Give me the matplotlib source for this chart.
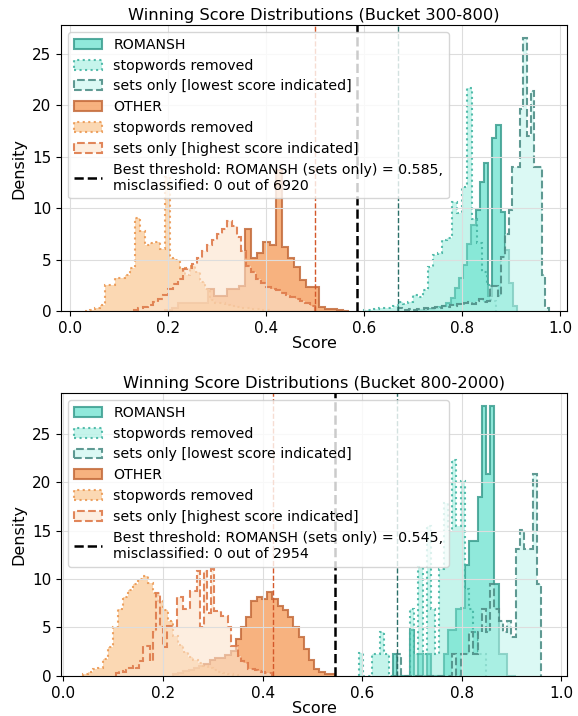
import numpy as np
import matplotlib
matplotlib.use("Agg")
import matplotlib.pyplot as plt

# ---------------- Bucket 300-800 ----------------
top_rom_start, top_rom_width = 0.700, 0.0085
top_rom = [0.05, 0.1, 0.1, 0.2, 0.2, 0.3, 0.4, 0.5, 0.8, 1.3, 2.2, 3.2, 4.5, 6.5,
           8.4, 9.8, 12.5, 14.4, 1.5, 16.8, 18.1, 9.6, 5.9, 2.7, 0.5]
top_rsw_start, top_rsw_width = 0.600, 0.010
top_rsw = [0.1, 0.1, 0.2, 0.3, 0.3, 0.3, 0.5, 0.9, 0.7, 0.9, 1.6, 1.4, 2.0, 4.3,
           5.4, 5.6, 6.9, 7.1, 10.6, 9.5, 12.1, 21.7, 8.9, 6.6, 3.8, 2.5, 1.0]
top_rso_start, top_rso_width = 0.670, 0.0075
top_rso = [0.3, 0.1, 0.1, 0.2, 0.1, 0.2, 0.2, 0.3, 0.2, 0.3, 0.4, 0.3, 0.5, 0.4,
           0.6, 0.5, 0.7, 0.6, 0.8, 0.9, 0.7, 1.0, 1.2, 0.9, 1.0, 2.4, 2.4, 1.5,
           5.3, 7.5, 9.8, 14.0, 14.0, 19.6, 26.5, 17.0, 21.4, 14.0, 14.0, 3.5, 0.3]
top_oth_start, top_oth_width = 0.195, 0.0125
top_oth = [0.1, 0.3, 0.8, 0.8, 0.8, 0.8, 0.8, 2.1, 1.5, 1.5, 2.1, 2.1, 2.4, 8.0,
           5.2, 5.6, 6.7, 6.4, 13.7, 6.2, 5.2, 4.3, 3.0, 2.3, 2.3, 0.4, 0.2, 0.2,
           0.1, 0.05]
top_osw_start, top_osw_width = 0.030, 0.0102
top_osw = [0.05, 0.1, 0.3, 0.6, 2.5, 2.5, 3.2, 3.2, 3.5, 4.2, 9.0, 7.8, 6.4, 6.6,
           6.7, 6.0, 13.0, 5.2, 5.0, 4.2, 3.5, 4.4, 3.8, 2.8, 2.1, 1.1, 0.8, 0.8,
           0.6, 0.5, 0.4, 0.3, 0.3, 0.2, 0.2, 0.1, 0.1]
top_oso_start, top_oso_width = 0.130, 0.010
top_oso = [0.1, 0.3, 0.4, 0.6, 0.9, 1.2, 1.6, 2.1, 2.6, 3.1, 4.1, 4.2, 4.6, 5.2,
           5.8, 6.4, 6.9, 7.5, 8.0, 8.8, 8.3, 7.2, 5.8, 4.4, 3.8, 3.1, 2.7, 2.3,
           2.1, 2.0, 1.8, 1.6, 1.4, 1.2, 1.0, 0.8, 0.5]
top_rom_lowest = 0.67
top_oth_highest = 0.50
top_threshold = 0.585
top_total = 6920

# ---------------- Bucket 800-2000 ----------------
bot_rom_start, bot_rom_width = 0.6615, 0.0085
bot_rom = [2.3, 0, 0, 0, 4.7, 0, 2.3, 0, 2.3, 0, 0, 0, 2.3, 4.7, 4.7, 6.9, 7.0,
           11.5, 13.9, 13.9, 18.5, 27.9, 20.8, 27.9, 9.5, 2.3, 2.3, 0, 0]
bot_rsw_start, bot_rsw_width = 0.5935, 0.0085
bot_rsw = [2.4, 0, 0, 2.3, 2.3, 4.5, 2.3, 0, 0, 0, 0, 0, 6.9, 2.3, 11.2, 2.3, 15.5,
           6.9, 2.3, 11.0, 17.9, 15.0, 22.3, 15.5, 20.1, 9.0, 6.9, 4.5, 2.3, 2.3]
bot_rso_start, bot_rso_width = 0.6615, 0.0085
bot_rso = [0, 2.3, 0, 0, 0, 0, 0, 0, 0, 0, 0, 0, 0, 0, 2.3, 0, 2.3, 2.3, 4.5, 2.3,
           4.5, 6.9, 4.5, 9.5, 6.9, 5.7, 4.5, 5.7, 4.0, 13.1, 15.1, 13.1, 13.1,
           20.8, 9.5]
bot_oth_start, bot_oth_width = 0.220, 0.0105
bot_oth = [0.2, 0.3, 0.5, 0.6, 0.8, 1.0, 1.2, 1.6, 1.9, 1.9, 2.2, 2.6, 3.8, 5.0,
           6.1, 7.7, 8.1, 7.9, 8.7, 7.9, 7.2, 6.8, 6.1, 5.0, 4.0, 2.8, 1.6, 0.7,
           0.4, 0.2, 0.2]
bot_osw_start, bot_osw_width = 0.040, 0.010
bot_osw = [0.2, 0.4, 0.7, 0.8, 1.7, 3.0, 5.0, 6.9, 8.1, 8.9, 9.5, 10.0, 10.3, 9.6,
           8.6, 7.7, 6.8, 5.7, 4.1, 3.2, 2.5, 2.0, 1.6, 1.3, 1.0, 0.8, 0.6, 0.4,
           0.3, 0.2, 0.1]
bot_oso_start, bot_oso_width = 0.105, 0.0068
bot_oso = [0.3, 0.5, 0.4, 0.6, 0.8, 1.0, 0.8, 1.5, 3.1, 3.1, 1.5, 4.5, 8.6, 5.0,
           3.0, 5.2, 5.2, 5.2, 8.1, 8.1, 6.9, 6.9, 8.8, 8.8, 10.8, 5.0, 10.8, 6.5,
           11.0, 6.7, 6.7, 6.2, 6.2, 5.0, 3.1, 3.1, 2.1, 1.5, 1.3, 0.7, 0.7, 0.6,
           0.5, 0.4, 0.3, 0.3]
bot_rom_lowest = 0.67
bot_oth_highest = 0.42
bot_threshold = 0.545
bot_total = 2954

# styles: (face, edge, linestyle)
styles = {
    "rom": ((0.28, 0.86, 0.77, 0.6), (0.23, 0.62, 0.56, 0.85), "-"),
    "rsw": ((0.50, 0.91, 0.83, 0.45), (0.27, 0.71, 0.64, 0.9), ":"),
    "rso": ((0.75, 0.96, 0.92, 0.55), (0.31, 0.56, 0.53, 0.9), "--"),
    "oth": ((0.96, 0.60, 0.33, 0.75), (0.77, 0.42, 0.23, 0.85), "-"),
    "osw": ((0.98, 0.77, 0.54, 0.65), (0.92, 0.60, 0.33, 0.9), ":"),
    "oso": ((0.99, 0.89, 0.80, 0.6), (0.87, 0.48, 0.29, 0.9), "--"),
}


def draw_hist(ax, start, width, heights, key, label):
    face, edge, ls = styles[key]
    edges = start + width * np.arange(len(heights) + 1)
    ax.stairs(heights, edges, fill=True, facecolor=face, edgecolor=edge,
              linestyle=ls, linewidth=1.5, label=label)


def panel(ax, series, lowest, highest, thr, total, bucket, xlim, ylim):
    labels = ["ROMANSH", "stopwords removed", "sets only [lowest score indicated]",
              "OTHER", "stopwords removed", "sets only [highest score indicated]"]
    for (start, width, h, key), lab in zip(series, labels):
        draw_hist(ax, start, width, h, key, lab)
    ax.axvline(lowest, color="#2a6f68", ls="--", lw=1.0)
    ax.axvline(highest, color="#d4582a", ls="--", lw=1.0)
    ax.axvline(thr, color="black", ls="--", lw=1.8,
               label=f"Best threshold: ROMANSH (sets only) = {thr},\n"
                     f"misclassified: 0 out of {total}")
    ax.set_xlim(*xlim)
    ax.set_ylim(*ylim)
    ax.set_title(f"Winning Score Distributions (Bucket {bucket})", fontsize=11.7, pad=4)
    ax.set_xlabel("Score", fontsize=11.5, labelpad=0.5)
    ax.set_ylabel("Density", fontsize=11.5)
    ax.tick_params(labelsize=11)
    ax.set_yticks([0, 5, 10, 15, 20, 25])
    ax.grid(True, color="#dddddd", lw=0.8)
    ax.legend(loc="upper left", fontsize=10.2, framealpha=0.8, labelspacing=0.48)


fig = plt.figure(figsize=(5.78, 7.16), dpi=100)
ax1 = fig.add_axes([0.1055, 0.5656, 0.8754, 0.3994])
ax2 = fig.add_axes([0.1055, 0.0560, 0.8754, 0.3950])

panel(ax1,
      [(top_rom_start, top_rom_width, top_rom, "rom"),
       (top_rsw_start, top_rsw_width, top_rsw, "rsw"),
       (top_rso_start, top_rso_width, top_rso, "rso"),
       (top_oth_start, top_oth_width, top_oth, "oth"),
       (top_osw_start, top_osw_width, top_osw, "osw"),
       (top_oso_start, top_oso_width, top_oso, "oso")],
      top_rom_lowest, top_oth_highest, top_threshold, top_total, "300-800",
      (-0.018, 1.014), (0, 27.8))

panel(ax2,
      [(bot_rom_start, bot_rom_width, bot_rom, "rom"),
       (bot_rsw_start, bot_rsw_width, bot_rsw, "rsw"),
       (bot_rso_start, bot_rso_width, bot_rso, "rso"),
       (bot_oth_start, bot_oth_width, bot_oth, "oth"),
       (bot_osw_start, bot_osw_width, bot_osw, "osw"),
       (bot_oso_start, bot_oso_width, bot_oso, "oso")],
      bot_rom_lowest, bot_oth_highest, bot_threshold, bot_total, "800-2000",
      (-0.005, 1.011), (0, 29.2))

fig.savefig("out.png", dpi=100)
